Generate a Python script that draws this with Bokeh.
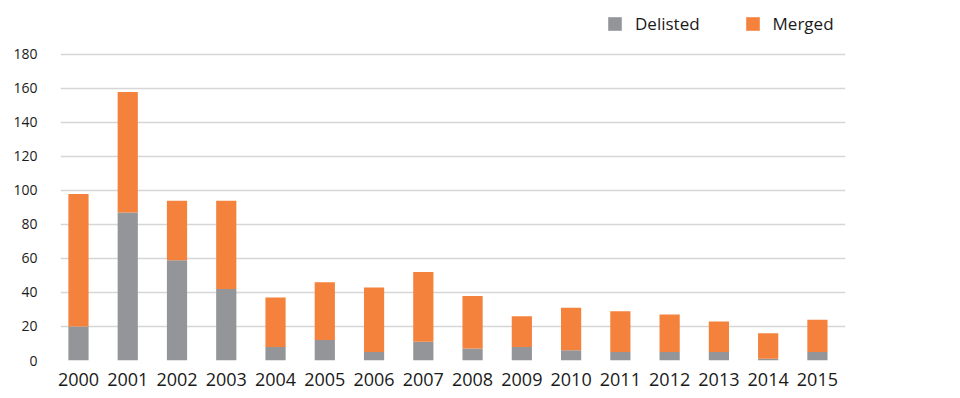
from bokeh.plotting import figure
from bokeh.models import Range1d, FixedTicker, ColumnDataSource, Legend, LegendItem
from bokeh.embed import file_html
from bokeh.resources import INLINE

years = [2000, 2001, 2002, 2003, 2004, 2005, 2006, 2007, 2008, 2009, 2010, 2011, 2012, 2013, 2014, 2015]
delisted = [20, 87, 59, 42, 8, 12, 5, 11, 7, 8, 6, 5, 5, 5, 1, 5]
merged = [78, 71, 35, 52, 29, 34, 38, 41, 31, 18, 25, 24, 22, 18, 15, 19]
y_ticks = [0, 20, 40, 60, 80, 100, 120, 140, 160, 180]

FONT = "Open Sans"
GRAY = "#939598"
ORANGE = "#F4823C"

src = ColumnDataSource(dict(year=years, Delisted=delisted, Merged=merged))

p = figure(width=960, height=398, output_backend="svg", toolbar_location=None,
           x_range=Range1d(1999.635, 2015.57), y_range=Range1d(0, 211.76),
           min_border_left=60, min_border_right=115, min_border_top=0, min_border_bottom=38)
p.outline_line_color = None
p.background_fill_color = "white"
p.border_fill_color = "white"

rs = p.vbar_stack(["Delisted", "Merged"], x="year", width=0.41, source=src,
                  color=[GRAY, ORANGE], line_color=None)

p.xgrid.grid_line_color = None
p.ygrid.grid_line_color = "#d6d6d6"
p.ygrid.grid_line_width = 1.5

p.yaxis.ticker = FixedTicker(ticks=y_ticks)
p.xaxis.ticker = FixedTicker(ticks=years)
for ax in (p.xaxis, p.yaxis):
    ax.axis_line_color = None
    ax.major_tick_line_color = None
    ax.minor_tick_line_color = None
    ax.major_tick_out = 0
    ax.major_tick_in = 0
    ax.major_label_text_font = FONT
    ax.major_label_text_color = "#1a1a1a"
p.yaxis.major_label_text_font_size = "14px"
p.yaxis.major_label_standoff = 23
p.xaxis.major_label_text_font_size = "18px"
p.xaxis.major_label_standoff = 12

legend = Legend(items=[LegendItem(label="Delisted", renderers=[rs[0]]),
                       LegendItem(label="Merged", renderers=[rs[1]])],
                location=(546, 325), orientation="horizontal",
                glyph_width=17, glyph_height=17, label_standoff=12, spacing=44,
                padding=0, margin=0, border_line_color=None, background_fill_alpha=0,
                label_text_font=FONT, label_text_font_size="17px", label_text_color="#1a1a1a")
p.add_layout(legend, "center")

open("out.html", "w").write(file_html(p, INLINE))
